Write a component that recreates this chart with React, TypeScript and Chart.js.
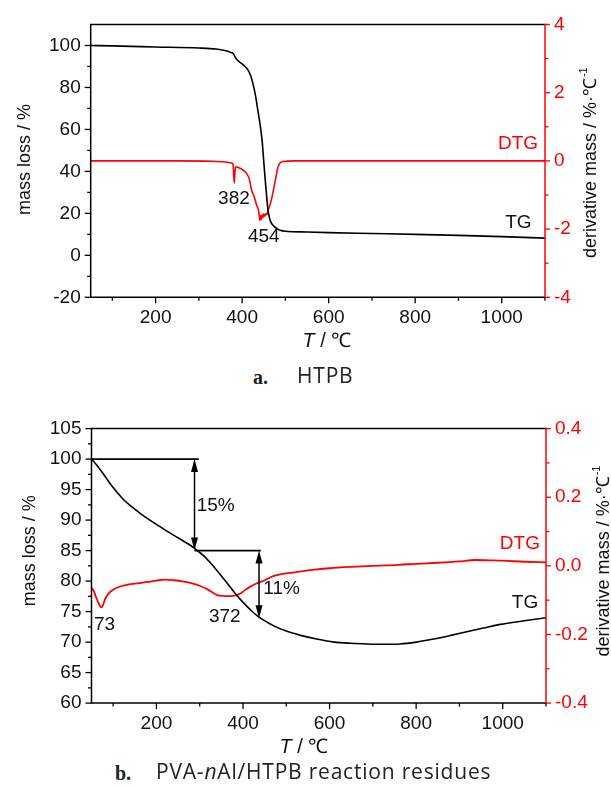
import React, { useEffect, useRef } from "react";
import { Chart, registerables } from "chart.js";
Chart.register(...registerables);

// ---------- Data: chart a (HTPB) ----------
const A_TG_T = [50, 100, 200, 300, 340, 360, 375, 380, 383, 388, 395, 405, 413, 420, 426, 431, 436, 441, 446, 451, 455, 459, 463, 468, 474, 480, 488, 500, 550, 600, 700, 800, 900, 1000, 1100];
const A_TG = [100, 99.8, 99.3, 98.8, 98.3, 97.6, 96.6, 96.0, 94.8, 93.3, 92.0, 90.3, 88.5, 85.5, 81.0, 76.0, 69.5, 63, 55, 42, 32, 23, 18, 15.2, 13.8, 12.8, 12.0, 11.5, 11.1, 10.8, 10.4, 10.0, 9.5, 8.9, 8.2];
const A_DTG_T = [50, 150, 250, 330, 360, 375, 379, 380.5, 382, 383.5, 386, 392, 400, 410, 417, 422, 428, 433.5, 438, 441, 442, 444, 446, 448, 450, 452, 455, 457, 460, 464, 468, 472, 476, 480, 483, 487, 494, 520, 700, 900, 1100];
const A_DTG = [0, 0, 0, -0.01, -0.03, -0.06, -0.1, -0.4, -0.65, -0.3, -0.17, -0.2, -0.25, -0.36, -0.55, -0.86, -1.05, -1.3, -1.45, -1.75, -1.6, -1.72, -1.58, -1.66, -1.55, -1.62, -1.55, -1.58, -1.45, -1.3, -1.12, -0.88, -0.62, -0.35, -0.17, -0.07, -0.02, 0, 0, 0, 0];
const A_YL_TICKS = [-20, 0, 20, 40, 60, 80, 100];
const A_YL_MINOR = [-10, 10, 30, 50, 70, 90];
const A_YR_TICKS = [-4, -2, 0, 2, 4];
const A_YR_MINOR = [-3, -1, 1, 3];

// ---------- Data: chart b (PVA-nAl/HTPB residues) ----------
const B_TG_T = [50, 60, 72, 85, 95, 110, 125, 150, 172, 200, 226, 250, 264, 280, 291, 310, 326, 345, 364, 383, 403, 420, 437, 455, 470, 500, 533, 570, 610, 650, 687, 725, 763, 800, 840, 880, 917, 955, 994, 1050, 1100];
const B_TG = [100, 99.2, 98.1, 96.8, 95.8, 94.5, 93.3, 91.8, 90.6, 89.3, 88.1, 87.1, 86.5, 85.8, 85.2, 84.1, 82.9, 81.3, 79.6, 77.9, 76.3, 75.1, 74.1, 73.3, 72.7, 71.8, 71.1, 70.5, 70.0, 69.8, 69.7, 69.65, 69.7, 70.0, 70.5, 71.1, 71.7, 72.3, 72.9, 73.5, 74.0];
const B_DTG_T = [50, 55, 60, 65, 70, 73, 77, 82, 90, 100, 110, 130, 150, 180, 200, 220, 240, 260, 280, 300, 320, 335, 345, 360, 372, 385, 395, 405, 415, 430, 450, 470, 490, 520, 560, 600, 650, 700, 760, 800, 850, 900, 935, 970, 1000, 1050, 1100];
const B_DTG = [-0.065, -0.072, -0.09, -0.105, -0.118, -0.121, -0.113, -0.095, -0.08, -0.07, -0.063, -0.056, -0.052, -0.047, -0.043, -0.04, -0.042, -0.045, -0.05, -0.058, -0.07, -0.082, -0.087, -0.088, -0.088, -0.085, -0.08, -0.07, -0.062, -0.052, -0.042, -0.03, -0.024, -0.019, -0.012, -0.007, -0.003, 0.0, 0.003, 0.006, 0.009, 0.013, 0.017, 0.016, 0.015, 0.012, 0.01];
const B_YL_TICKS = [60, 65, 70, 75, 80, 85, 90, 95, 100, 105];
const B_YL_MINOR = [62.5, 67.5, 72.5, 77.5, 82.5, 87.5, 92.5, 97.5, 102.5];
const B_YR_TICKS = [-0.4, -0.2, 0, 0.2, 0.4];
const B_YR_MINOR = [-0.3, -0.1, 0.1, 0.3];
// step annotation (T, mass)
const B_STEP1 = { tStart: 50, tEnd: 298, tArrow: 288, top: 100, bottom: 85 };
const B_STEP2 = { tStart: 288, tEnd: 441, tArrow: 437, top: 85, bottom: 73.9 };

// shared x axis
const X_TICKS = [200, 400, 600, 800, 1000];
const X_MINOR = [100, 300, 500, 700, 900, 1100];

const RED = "#ff0000";
const FONT = '"Liberation Sans", Arial, sans-serif';
const NARROW = '"Liberation Sans Narrow", "Arial Narrow", "Liberation Sans", sans-serif';

type Lbl = { text: string; t: number; v: number; axis: "yL" | "yR"; align: CanvasTextAlign; color: string };
type Cfg = {
  top: number; height: number; plotTop: number; plotBottom: number; plotLeft: number; plotRight: number;
  yL: [number, number]; yR: [number, number];
  yLTicks: number[]; yLMinor: number[]; yRTicks: number[]; yRMinor: number[];
  yRFmt: (v: number) => string;
  series: { t: number[]; v: number[]; axis: "yL" | "yR"; color: string; width: number }[];
  labels: Lbl[];
  xTitle: { cx: number; cy: number };
  lTitle: { x: number; cy: number };
  rTitle: { x: number; cy: number };
  steps?: typeof B_STEP1[];
};

const A_CFG: Cfg = {
  top: 0, height: 362, plotTop: 24.5, plotBottom: 297.3, plotLeft: 90.7, plotRight: 545,
  yL: [-20, 110], yR: [-4, 4],
  yLTicks: A_YL_TICKS, yLMinor: A_YL_MINOR, yRTicks: A_YR_TICKS, yRMinor: A_YR_MINOR,
  yRFmt: (v) => String(v),
  series: [
    { t: A_TG_T, v: A_TG, axis: "yL", color: "#000", width: 1.6 },
    { t: A_DTG_T, v: A_DTG, axis: "yR", color: RED, width: 1.6 },
  ],
  labels: [
    { text: "382", t: 381, v: -1.1, axis: "yR", align: "center", color: "#111" },
    { text: "454", t: 450, v: -2.22, axis: "yR", align: "center", color: "#111" },
    { text: "DTG", t: 1084, v: 0.51, axis: "yR", align: "right", color: RED },
    { text: "TG", t: 1069, v: 15.5, axis: "yL", align: "right", color: "#111" },
  ],
  xTitle: { cx: 327, cy: 341.6 },
  lTitle: { x: 29.5, cy: 159.5 },
  rTitle: { x: 596, cy: 162.7 },
};

const B_CFG: Cfg = {
  top: 390, height: 372, plotTop: 38.6, plotBottom: 313.1, plotLeft: 91.5, plotRight: 546,
  yL: [60, 105], yR: [-0.4, 0.4],
  yLTicks: B_YL_TICKS, yLMinor: B_YL_MINOR, yRTicks: B_YR_TICKS, yRMinor: B_YR_MINOR,
  yRFmt: (v) => v.toFixed(1),
  series: [
    { t: B_TG_T, v: B_TG, axis: "yL", color: "#000", width: 1.6 },
    { t: B_DTG_T, v: B_DTG, axis: "yR", color: RED, width: 1.8 },
  ],
  labels: [
    { text: "15%", t: 293, v: 92.3, axis: "yL", align: "left", color: "#111" },
    { text: "11%", t: 447, v: 78.8, axis: "yL", align: "left", color: "#111" },
    { text: "73", t: 80, v: 72.8, axis: "yL", align: "center", color: "#111" },
    { text: "372", t: 358, v: 74.2, axis: "yL", align: "center", color: "#111" },
    { text: "DTG", t: 1086, v: 86.2, axis: "yL", align: "right", color: RED },
    { text: "TG", t: 1082, v: 76.4, axis: "yL", align: "right", color: "#111" },
  ],
  xTitle: { cx: 304, cy: 357.4 },
  lTitle: { x: 35, cy: 160.7 },
  rTitle: { x: 609, cy: 171 },
  steps: [B_STEP1, B_STEP2],
};

function makeDecor(c: Cfg) {
  return {
    id: "decor",
    afterDraw(chart: any) {
      const ctx: CanvasRenderingContext2D = chart.ctx;
      const ca = chart.chartArea;
      const sx = chart.scales.x, sl = chart.scales.yL, sr = chart.scales.yR;
      const seg = (x1: number, y1: number, x2: number, y2: number, col: string, w: number) => {
        ctx.strokeStyle = col; ctx.lineWidth = w;
        ctx.beginPath(); ctx.moveTo(x1, y1); ctx.lineTo(x2, y2); ctx.stroke();
      };
      ctx.save();
      ctx.lineCap = "butt";
      // frame
      seg(ca.left - 0.75, ca.top, ca.right, ca.top, "#000", 1.5);
      seg(ca.left, ca.top, ca.left, ca.bottom + 0.75, "#000", 1.5);
      seg(ca.left, ca.bottom, ca.right, ca.bottom, "#000", 1.5);
      seg(ca.right, ca.top - 0.75, ca.right, ca.bottom + 0.75, RED, 1.5);
      // ticks
      for (const v of X_TICKS) { const p = sx.getPixelForValue(v); seg(p, ca.bottom, p, ca.bottom + 6, "#000", 1.3); }
      for (const v of X_MINOR) { const p = sx.getPixelForValue(v); seg(p, ca.bottom, p, ca.bottom + 3.5, "#000", 1.3); }
      for (const v of c.yLTicks) { const p = sl.getPixelForValue(v); seg(ca.left - 6, p, ca.left, p, "#000", 1.3); }
      for (const v of c.yLMinor) { const p = sl.getPixelForValue(v); seg(ca.left - 3.5, p, ca.left, p, "#000", 1.3); }
      for (const v of c.yRTicks) { const p = sr.getPixelForValue(v); seg(ca.right, p, ca.right + 5, p, RED, 1.3); }
      for (const v of c.yRMinor) { const p = sr.getPixelForValue(v); seg(ca.right, p, ca.right + 3.5, p, RED, 1.3); }
      // step annotations with double arrows
      ctx.fillStyle = "#000";
      const head = (x: number, y: number, dir: number) => {
        ctx.beginPath(); ctx.moveTo(x, y); ctx.lineTo(x - 3.5, y - dir * 13); ctx.lineTo(x + 3.5, y - dir * 13); ctx.closePath(); ctx.fill();
      };
      for (const s of c.steps || []) {
        const yTop = sl.getPixelForValue(s.top), yBot = sl.getPixelForValue(s.bottom);
        seg(sx.getPixelForValue(s.tStart), yTop, sx.getPixelForValue(s.tEnd), yTop, "#000", 1.6);
        const xa = sx.getPixelForValue(s.tArrow);
        seg(xa, yTop + 8, xa, yBot - 8, "#000", 1.5);
        head(xa, yTop, -1);
        head(xa, yBot, 1);
      }
      // text labels
      ctx.font = `19px ${NARROW}`;
      ctx.textBaseline = "middle";
      for (const l of c.labels) {
        const s = l.axis === "yL" ? sl : sr;
        ctx.fillStyle = l.color; ctx.textAlign = l.align;
        ctx.fillText(l.text, sx.getPixelForValue(l.t), s.getPixelForValue(l.v));
      }
      // x title: "T / ℃"
      ctx.fillStyle = "#111";
      ctx.textAlign = "left";
      ctx.font = `italic 20px ${NARROW}`;
      const wT = ctx.measureText("T").width;
      ctx.font = `20px ${NARROW}`;
      const rest = " / \u2103";
      const wR = ctx.measureText(rest).width;
      const x0 = c.xTitle.cx - (wT + wR) / 2;
      ctx.font = `italic 20px ${NARROW}`;
      ctx.fillText("T", x0, c.xTitle.cy);
      ctx.font = `20px ${NARROW}`;
      ctx.fillText(rest, x0 + wT, c.xTitle.cy);
      // left title
      ctx.font = `18px ${FONT}`;
      ctx.textBaseline = "alphabetic";
      ctx.save();
      ctx.translate(c.lTitle.x, c.lTitle.cy);
      ctx.rotate(-Math.PI / 2);
      ctx.textAlign = "center";
      ctx.fillText("mass loss / %", 0, 0);
      ctx.restore();
      // right title with superscript
      ctx.save();
      ctx.translate(c.rTitle.x, c.rTitle.cy);
      ctx.rotate(-Math.PI / 2);
      ctx.textAlign = "left";
      const main = "derivative mass / %\u00b7\u2103";
      ctx.font = `18px ${FONT}`;
      const wm = ctx.measureText(main).width;
      ctx.font = `11px ${FONT}`;
      const ws = ctx.measureText("-1").width;
      const sx0 = -(wm + ws + 1) / 2;
      ctx.font = `18px ${FONT}`;
      ctx.fillText(main, sx0, 0);
      ctx.font = `11px ${FONT}`;
      ctx.fillText("-1", sx0 + wm + 1, -9);
      ctx.restore();
      ctx.restore();
    },
  };
}

function buildConfig(c: Cfg): any {
  const tickFont = { family: NARROW, size: 19 };
  return {
    type: "line",
    data: {
      datasets: c.series.map((s) => ({
        data: s.t.map((t, i) => ({ x: t, y: s.v[i] })),
        yAxisID: s.axis,
        borderColor: s.color,
        borderWidth: s.width,
        pointRadius: 0,
        fill: false,
        cubicInterpolationMode: "monotone",
      })),
    },
    options: {
      responsive: false,
      animation: false,
      events: [],
      layout: { padding: { top: c.plotTop, left: 0, right: 0, bottom: 0 } },
      plugins: { legend: { display: false }, tooltip: { enabled: false } },
      scales: {
        x: {
          type: "linear", min: 50, max: 1100,
          afterBuildTicks: (s: any) => { s.ticks = X_TICKS.map((v) => ({ value: v })); },
          afterFit: (s: any) => { s.height = c.height - c.plotBottom; },
          ticks: { font: tickFont, color: "#111", padding: 3, maxRotation: 0, autoSkip: false, callback: (v: number) => String(v) },
          grid: { display: false, drawTicks: true, tickLength: 6 },
          border: { display: false },
        },
        yL: {
          type: "linear", position: "left", min: c.yL[0], max: c.yL[1],
          afterBuildTicks: (s: any) => { s.ticks = c.yLTicks.map((v) => ({ value: v })); },
          afterFit: (s: any) => { s.width = c.plotLeft; },
          ticks: { font: tickFont, color: "#111", padding: 4, autoSkip: false, callback: (v: number) => String(v) },
          grid: { display: false, drawTicks: true, tickLength: 6 },
          border: { display: false },
        },
        yR: {
          type: "linear", position: "right", min: c.yR[0], max: c.yR[1],
          afterBuildTicks: (s: any) => { s.ticks = c.yRTicks.map((v) => ({ value: v })); },
          afterFit: (s: any) => { s.width = 611 - c.plotRight; },
          ticks: { font: tickFont, color: RED, padding: 4, autoSkip: false, callback: (v: number) => c.yRFmt(v) },
          grid: { display: false, drawTicks: true, tickLength: 5 },
          border: { display: false },
        },
      },
    },
    plugins: [makeDecor(c)],
  };
}

function TGChart({ cfg }: { cfg: Cfg }) {
  const ref = useRef<HTMLCanvasElement>(null);
  useEffect(() => {
    const chart = new Chart(ref.current as HTMLCanvasElement, buildConfig(cfg));
    return () => chart.destroy();
  }, [cfg]);
  return (
    <canvas
      ref={ref}
      width={611}
      height={cfg.height}
      style={{ position: "absolute", left: 0, top: cfg.top, width: 611, height: cfg.height }}
    />
  );
}

const capSans: React.CSSProperties = {
  position: "absolute", fontFamily: '"Open Sans", "Noto Sans", sans-serif', fontSize: 21, lineHeight: "21px",
  letterSpacing: "0.8px", color: "#222", whiteSpace: "nowrap",
};
const capSerif: React.CSSProperties = {
  position: "absolute", fontFamily: '"Liberation Serif", "DejaVu Serif", serif', fontWeight: "bold", fontSize: 20,
  lineHeight: "20px", color: "#222", whiteSpace: "nowrap",
};

export default function App() {
  return (
    <div style={{ position: "absolute", left: 0, top: 0, width: 611, height: 787, background: "#fff", overflow: "hidden" }}>
      <TGChart cfg={A_CFG} />
      <TGChart cfg={B_CFG} />
      <div style={{ ...capSerif, left: 253, top: 367 }}>a.</div>
      <div style={{ ...capSans, left: 297, top: 365 }}>HTPB</div>
      <div style={{ ...capSerif, left: 115, top: 762.5 }}>b.</div>
      <div style={{ ...capSans, left: 156, top: 760.5 }}>
        PVA-<i>n</i>Al/HTPB reaction residues
      </div>
    </div>
  );
}
